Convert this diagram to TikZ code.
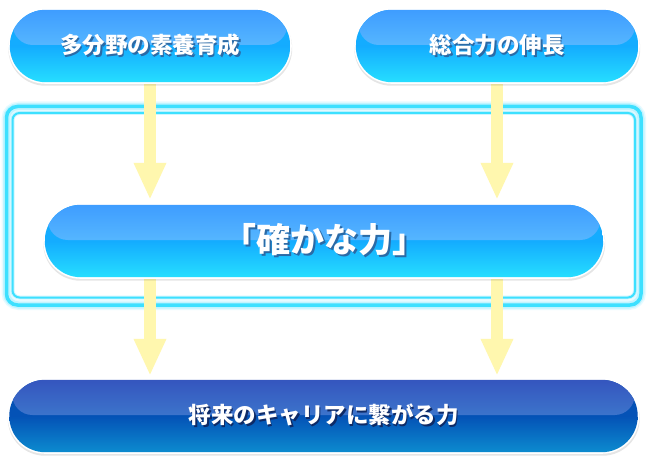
\documentclass[tikz,border=0pt]{standalone}
\usepackage{fontspec}
\newfontfamily\cjk{Noto Sans CJK JP}
\usetikzlibrary{arrows.meta}
\pgfdeclarelayer{framelayer}
\pgfdeclarelayer{arrowlayer}
\pgfdeclarelayer{btnlayer}
\pgfsetlayers{framelayer,arrowlayer,btnlayer,main}
\definecolor{arrowyellow}{HTML}{FFF7AE}
\definecolor{framecyan}{HTML}{3DE0FF}
\definecolor{frameglow}{HTML}{9EEFFF}
\definecolor{cUpTop}{HTML}{3C9AFF}
\definecolor{cUpBot}{HTML}{55B6FF}
\definecolor{cLoTop}{HTML}{14ACFF}
\definecolor{cLoBot}{HTML}{26DEFF}
\definecolor{nUpTop}{HTML}{3452BD}
\definecolor{nUpBot}{HTML}{3C74CB}
\definecolor{nLoTop}{HTML}{0452B6}
\definecolor{nLoBot}{HTML}{0C8BCF}
\definecolor{cyanshade}{HTML}{2A6AA6}
\definecolor{navyshade}{HTML}{0E2A66}
\newcommand\glossbtn[5]{%
  \begin{pgfonlayer}{btnlayer}
    \fill[black, opacity=.10, rounded corners=37pt]
      ([shift={(-1.5pt,-1pt)}]#1.north west) rectangle ([shift={(2pt,-3.5pt)}]#1.south east);
    \fill[white, rounded corners=37.5pt]
      ([shift={(-1.6pt,1.6pt)}]#1.north west) rectangle ([shift={(1.6pt,-1.6pt)}]#1.south east);
    \begin{scope}
      \clip[rounded corners=36pt] (#1.north west) rectangle (#1.south east);
      \fill[#4] (#1.north west) rectangle (#1.east);
      \shade[top color=#4, bottom color=#5] (#1.west) rectangle (#1.south east);
      \shade[top color=#2, bottom color=#3, rounded corners=20pt]
        ([shift={(3pt,4pt)}]#1.north west) rectangle ([shift={(-3pt,1pt)}]#1.east);
    \end{scope}
  \end{pgfonlayer}}
% white text with a soft dark drop shadow inside one node
\newcommand\shadowed[3][1.6pt]{%
  \rlap{\kern#1\raisebox{-#1}{\textcolor{#2}{#3}}}#3}
\tikzset{
  btntext/.style={inner sep=0pt, text=white, font=\cjk\bfseries\fontsize{22.5}{26}\selectfont},
  bigtext/.style={btntext, font=\cjk\bfseries\fontsize{34}{38}\selectfont},
  flowarrow/.style={draw=arrowyellow, line width=12.5pt,
    -{Triangle[width=30pt,length=37pt]}},
}
\begin{document}
\begin{tikzpicture}[x=1pt,y=-1pt]
\begin{pgfonlayer}{framelayer}
\fill[white] (0,0) rectangle (650,468);
\end{pgfonlayer}
\useasboundingbox (0,0) rectangle (650,468);

% nodes
\node[btntext, minimum width=280pt, minimum height=72pt] (skill) at (150,46) {\shadowed{cyanshade}{多分野の素養育成}};
\node[btntext, minimum width=282pt, minimum height=72pt] (total) at (497,46) {\shadowed{cyanshade}{総合力の伸長}};
\node[bigtext, minimum width=558pt, minimum height=72pt] (solid) at (324,241) {\shadowed[2pt]{cyanshade}{「確かな力」}};
\node[btntext, minimum width=628pt, minimum height=72pt] (career) at (323.5,416) {\shadowed{navyshade}{将来のキャリアに繋がる力}};

% button bodies
\glossbtn{skill}{cUpTop}{cUpBot}{cLoTop}{cLoBot}
\glossbtn{total}{cUpTop}{cUpBot}{cLoTop}{cLoBot}
\glossbtn{solid}{cUpTop}{cUpBot}{cLoTop}{cLoBot}
\glossbtn{career}{nUpTop}{nUpBot}{nLoTop}{nLoBot}

% glowing frame
\begin{pgfonlayer}{framelayer}
  \draw[frameglow, opacity=.25, line width=10pt, rounded corners=12pt] (6.5,106.5) rectangle (641,305);
  \draw[frameglow, opacity=.5, line width=7pt, rounded corners=12pt] (6.5,106.5) rectangle (641,305);
  \draw[framecyan, line width=3.5pt, rounded corners=11pt] (6.5,106.5) rectangle (641,305);
  \draw[frameglow, opacity=.5, line width=4pt, rounded corners=7pt] (12.5,113) rectangle (635,297.5);
  \draw[framecyan, line width=2pt, rounded corners=7pt] (12.5,113) rectangle (635,297.5);
\end{pgfonlayer}

% arrows
\begin{pgfonlayer}{arrowlayer}
  \draw[flowarrow, shorten >=5pt] (skill.south) -- (solid.north -| skill.south);
  \draw[flowarrow, shorten >=5pt] (total.south) -- (solid.north -| total.south);
  \draw[flowarrow, shorten >=4pt] (solid.south -| skill.south) -- (career.north -| skill.south);
  \draw[flowarrow, shorten >=4pt] (solid.south -| total.south) -- (career.north -| total.south);
\end{pgfonlayer}
\end{tikzpicture}
\end{document}
